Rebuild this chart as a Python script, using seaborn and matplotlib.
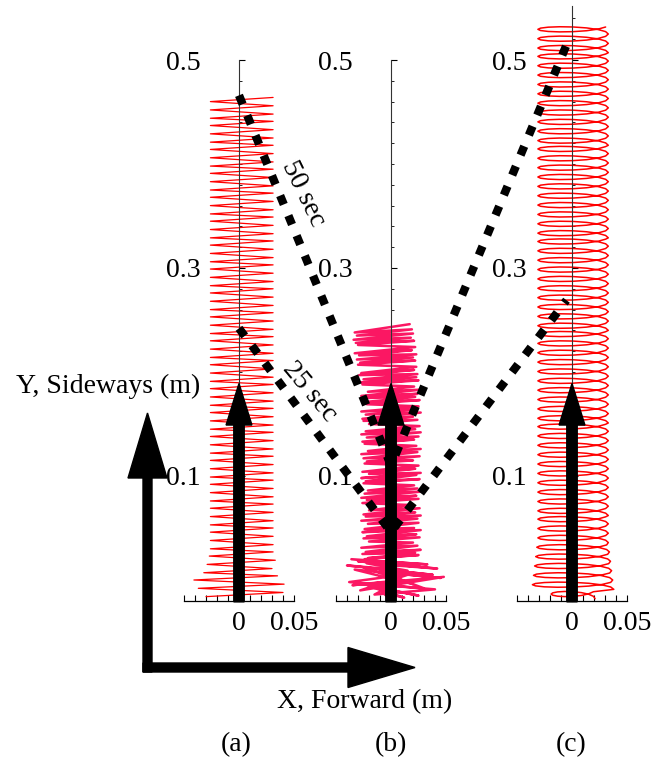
import matplotlib.pyplot as plt
import seaborn as sns
from matplotlib.ticker import MultipleLocator

W, H = 654, 763
PX_PER_M = 1040  # vertical scale shared by the three panels

# ---- panel (a): zig-zag turning points (mm), left/right alternating ----
a_turn_x = [-30, 40, -37, 41, -41, 35, -32, 30, -29, 33, -27, 31] + [-26, 31] * 57
a_turn_y = [-16, -12, -8, -4, 0, 4, 7, 11, 15, 19, 23, 27, 30, 34, 38, 42, 46, 50,
            53, 57, 61, 65, 69, 73, 76, 80, 84, 88, 92, 96, 99, 103, 107, 111, 115,
            119, 122, 126, 130, 134, 138, 142, 145, 149, 153, 157, 161, 165, 168,
            172, 176, 180, 184, 188, 191, 195, 199, 203, 207, 211, 214, 218, 222,
            226, 230, 234, 237, 241, 245, 249, 253, 257, 260, 264, 268, 272, 276,
            280, 283, 287, 291, 295, 299, 303, 306, 310, 314, 318, 322, 326, 329,
            333, 337, 341, 345, 349, 352, 356, 360, 364, 368, 372, 375, 379, 383,
            387, 391, 395, 398, 402, 406, 410, 414, 418, 421, 425, 429, 433, 437,
            441, 444, 448, 452, 456, 460, 464]

# ---- panel (b): scribble (mm) ----
b_base_x = [3, -8, 12, -20, 25, -30, 40, -15, 10, -35, 48, -28, 18, -38, 30,
            -10, 45, -33, 20, -25, 38, -40, 15, -22, 42, -30, 26, -36, 33, -24]
b_base_y = [-21, -12, -17, -6, -15, -3, -9, -14, 0, -5, 3, -10, 6, -2, -8,
            8, 2, 10, -4, 12, 5, 14, 9, 16, 11, 18, 13, 20, 15, 19]
b_left = [-24, -21, -26, -23, -27, -20, -25, -22, -26, -24,
          -21, -27, -23, -25, -20, -26, -22, -27, -24, -21,
          -25, -23, -27, -20, -26, -24, -22, -25, -27, -21,
          -24, -26, -22, -27, -23, -20, -25, -26, -23, -27,
          -22, -25, -24, -27, -21, -26, -28, -25, -29, -27,
          -30, -28, -31, -29, -33, -30, -32, -34, -31, -33]
b_right = [25, 22, 27, 24, 20, 26, 23, 27, 21, 25,
           24, 27, 22, 26, 20, 25, 23, 27, 24, 21,
           26, 23, 27, 22, 25, 20, 26, 24, 27, 23,
           21, 25, 27, 22, 26, 24, 20, 27, 23, 25,
           26, 22, 24, 27, 21, 25, 23, 24, 21, 23,
           22, 20, 23, 19, 22, 21, 18, 20, 19, 17]
b_turn_y = [20, 24, 21, 26, 25, 29, 27, 33, 31, 36,
            37, 41, 40, 44, 42, 48, 46, 50, 49, 55,
            54, 59, 57, 62, 61, 65, 63, 69, 67, 72,
            74, 78, 77, 81, 79, 85, 83, 88, 86, 91,
            93, 97, 95, 101, 98, 103, 102, 107, 104, 110,
            112, 115, 114, 119, 117, 123, 121, 126, 124, 129,
            131, 135, 133, 138, 137, 142, 140, 145, 143, 148,
            150, 154, 153, 157, 155, 161, 159, 164, 162, 167,
            169, 173, 171, 176, 175, 179, 177, 183, 181, 186,
            188, 192, 190, 195, 193, 198, 197, 202, 199, 205,
            207, 211, 209, 214, 212, 217, 216, 221, 218, 224,
            226, 230, 228, 233, 231, 237, 235, 241, 238, 246]

# ---- panel (c): one loop shape, repeated at each cycle height (mm) ----
c_loop_dx = [1.0, 0.924, 0.707, 0.383, 0.0, -0.383, -0.707, -0.924,
             -1.0, -0.924, -0.707, -0.383, 0.0, 0.383, 0.707, 0.924]
c_loop_dy = [0.0, 2.29, 4.31, 5.85, 6.75, 6.97, 6.56, 5.66,
             4.5, 3.34, 2.44, 2.03, 2.25, 3.15, 4.69, 6.72]
c_cycle_y = [-18, -9, 0, 9, 18, 27, 36, 45, 54, 62,
             71, 80, 89, 98, 107, 116, 125, 134, 143, 151,
             160, 169, 178, 187, 196, 205, 214, 223, 232, 240,
             249, 258, 267, 276, 285, 294, 303, 312, 321, 329,
             338, 347, 356, 365, 374, 383, 392, 401, 410, 418,
             427, 436, 445, 454, 463, 472, 481, 490, 499, 507,
             516, 525]
c_half_width = [20, 37, 36, 35, 34, 33] + [32] * 56
c_center = 1

# dashed time lines: (panel, x m, y m)
path_50 = [("a", 0.0, 0.466), ("b", 0.0, 0.110), ("c", -0.004, 0.517)]
path_25 = [("a", 0.0, 0.242), ("b", 0.0, 0.046), ("c", -0.005, 0.269)]
arrow_base, arrow_tip = -0.021, 0.189

y_ticks = [0.1, 0.3, 0.5]
y_labels = ["0.1", "0.3", "0.5"]
x_ticks = [0, 0.05]
x_labels = ["0", "0.05"]

sns.set_theme(style="white", rc={"axes.edgecolor": "black", "text.color": "black",
                                 "xtick.color": "black", "ytick.color": "black"})
plt.rcParams["font.family"] = ["Liberation Serif", "DejaVu Serif"]
FS = 20

fig = plt.figure(figsize=(W / 100, H / 100), dpi=100)
fig.patch.set_facecolor("white")

bottom_px = 600.8
panels = {
    "a": dict(center=239, ytop=0.5, pad=27.5),
    "b": dict(center=391, ytop=0.5, pad=27.5),
    "c": dict(center=572, ytop=0.552, pad=33),
}
axes = {}
for key, p in panels.items():
    h = (p["ytop"] + 0.02) * PX_PER_M
    ax = fig.add_axes([(p["center"] - 55) / W, (H - bottom_px) / H, 110 / W, h / H])
    ax.set_xlim(-0.05, 0.05)
    ax.set_ylim(-0.02, p["ytop"])
    ax.patch.set_alpha(0)
    for s in ["top", "right"]:
        ax.spines[s].set_visible(False)
    ax.spines["left"].set_position(("data", 0))
    ax.spines["left"].set_color("#333333")
    ax.spines["left"].set_linewidth(0.8)
    ax.spines["bottom"].set_linewidth(0.9)
    ax.set_xticks(x_ticks, x_labels)
    ax.set_yticks(y_ticks, y_labels)
    ax.xaxis.set_minor_locator(MultipleLocator(0.01))
    ax.yaxis.set_minor_locator(MultipleLocator(0.02))
    ax.tick_params(axis="x", which="both", bottom=True, direction="in", length=4,
                   width=0.8, pad=7, labelsize=FS)
    ax.tick_params(axis="y", which="major", left=True, direction="in", length=4,
                   width=0.8, pad=p["pad"], labelsize=FS)
    ax.tick_params(axis="y", which="minor", left=True, direction="in", length=2,
                   width=0.6)
    ax.grid(False)
    axes[key] = ax

# (a) trajectory
sns.lineplot(x=[v / 1000 for v in a_turn_x], y=[v / 1000 for v in a_turn_y],
             sort=False, estimator=None, color="#ff0000", linewidth=0.9,
             ax=axes["a"], zorder=2)

# (b) trajectory
bx = list(b_base_x)
by = list(b_base_y)
for i in range(len(b_left)):
    bx += [b_left[i], b_right[i]]
by += b_turn_y
sns.lineplot(x=[v / 1000 for v in bx], y=[v / 1000 for v in by],
             sort=False, estimator=None, color="#fb1763", linewidth=1.8,
             ax=axes["b"], zorder=2)

# (c) trajectory
cx, cy = [], []
for yk, w in zip(c_cycle_y, c_half_width):
    cx += [(c_center + w * d) / 1000 for d in c_loop_dx]
    cy += [(yk + d) / 1000 for d in c_loop_dy]
sns.lineplot(x=cx, y=cy, sort=False, estimator=None, color="#ff0000",
             linewidth=1.1, ax=axes["c"], zorder=2)

for ax in axes.values():
    ax.arrow(0, arrow_base, 0, arrow_tip - arrow_base, width=0.0095,
             head_width=0.0235, head_length=0.04, length_includes_head=True,
             fc="black", ec="black", zorder=5, clip_on=False)

# overlay in pixel coordinates
over = fig.add_axes([0, 0, 1, 1], zorder=10)
over.set_xlim(0, W)
over.set_ylim(H, 0)
over.axis("off")


def to_px(key, x, y):
    disp = axes[key].transData.transform((x, y))
    return over.transData.inverted().transform(disp)


for path in (path_50, path_25):
    pts = [to_px(k, x, y) for k, x, y in path]
    over.plot([p[0] for p in pts], [p[1] for p in pts], color="black", lw=6.0,
              linestyle=(0, (1.15, 1.45)), dash_capstyle="butt", zorder=6)

# big frame arrows
over.arrow(147.5, 672, 0, 413 - 672, width=9, head_width=39, head_length=65,
           length_includes_head=True, fc="black", ec="black")
over.arrow(143, 667.5, 415 - 143, 0, width=9, head_width=40, head_length=67,
           length_includes_head=True, fc="black", ec="black")

over.text(200, 386, "Y, Sideways (m)", ha="right", va="center", fontsize=FS)
over.text(277, 702, "X, Forward (m)", ha="left", va="center", fontsize=FS)
over.text(303, 194, "50 sec", ha="center", va="center", rotation=-64,
          rotation_mode="anchor", fontsize=FS)
over.text(310, 392, "25 sec", ha="center", va="center", rotation=-50,
          rotation_mode="anchor", fontsize=FS)
for key, xc in zip(["a", "b", "c"], [236, 391, 571]):
    over.text(xc, 745, f"({key})", ha="center", va="center", fontsize=FS)

fig.savefig("out.png", dpi=100)
